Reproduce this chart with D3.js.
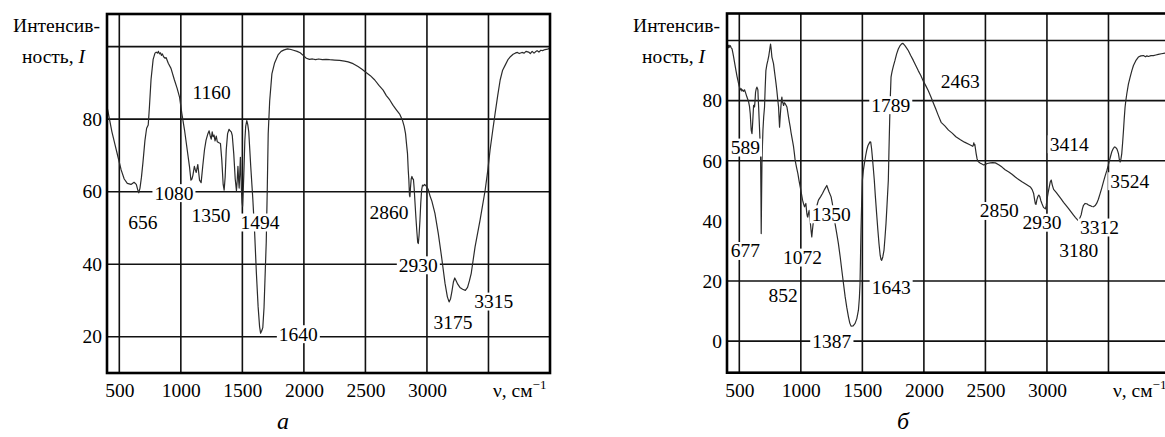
<!DOCTYPE html>
<html>
  <head>
    <meta charset="utf-8">
    <title>ИК-спектры а, б</title>
    <style>
      body {
        margin: 0;
        background: #fff;
      }
      svg, svg text {
        font-family: 'Liberation Serif', 'Times New Roman', Times, serif;
        fill: #000;
      }
      .curve {
        fill: none;
        stroke: #2b2b2b;
        stroke-width: 1.2;
        stroke-linejoin: round;
      }
      .grid line {
        stroke: #111;
        stroke-width: 1.6;
      }
      .frame {
        fill: none;
        stroke: #000;
        stroke-width: 2.6;
      }
    </style>
  </head>
  <body>
    <div class="chart"></div>

    <script src="https://d3js.org/d3.v7.min.js"></script>
    <script type="text/javascript">
      // spectrum "а": [wavenumber, intensity]
      var spectrumA = [
        [400, 83.5], [420, 80], [440, 76.5], [465, 73], [490, 69.5], [515, 66], [540, 63.5], [565, 62.3],
        [595, 62], [620, 62.6], [638, 62], [650, 60.5], [658, 59.7], [668, 61], [680, 64], [692, 68],
        [708, 74], [722, 77.5], [735, 78.4], [745, 83.5], [758, 91], [775, 96.5], [790, 98.2], [800, 98.5],
        [810, 98.2], [818, 98.7], [826, 98], [834, 98.3], [842, 97.6], [850, 98], [860, 97.2], [872, 96.8],
        [880, 97], [898, 95.4], [920, 94], [948, 90.8], [970, 88.5], [990, 86], [1008, 81.6], [1030, 77],
        [1052, 71.5], [1070, 67], [1082, 63.2], [1090, 63.5], [1098, 64.5], [1110, 67], [1118, 66], [1125, 65.3],
        [1138, 67.5], [1146, 65], [1152, 63.2], [1165, 62.5], [1178, 67], [1192, 71.5], [1205, 74.2], [1220, 76],
        [1230, 76.8], [1238, 75.5], [1247, 74.5], [1255, 76.5], [1262, 75.2], [1270, 75.6], [1278, 74], [1288, 75.3],
        [1296, 73.8], [1310, 73.5], [1322, 73.3], [1333, 68.7], [1344, 62], [1352, 60.4], [1360, 64], [1369, 71.5],
        [1380, 76], [1392, 77.2], [1400, 76.8], [1410, 76.5], [1418, 75.5], [1430, 70.5], [1442, 63.5], [1452, 60.3],
        [1458, 63], [1464, 67], [1470, 63], [1474, 61], [1479, 65], [1484, 69.5], [1489, 64], [1493, 60],
        [1498, 57], [1502, 56], [1507, 60], [1513, 66], [1520, 74], [1527, 78], [1536, 79.6], [1544, 78.5],
        [1552, 76.5], [1568, 67], [1585, 58], [1600, 48.5], [1614, 37.5], [1628, 28.3], [1640, 22.8], [1648, 21],
        [1656, 21.5], [1666, 22.5], [1676, 28], [1684, 36], [1694, 46], [1702, 60], [1710, 76], [1722, 85],
        [1740, 92.5], [1762, 95.5], [1790, 97.7], [1815, 98.7], [1840, 99.1], [1867, 99.4], [1895, 99.2], [1915, 99],
        [1945, 98.7], [1970, 98.3], [1994, 97.6], [2020, 96.8], [2045, 96.5], [2070, 96.6], [2095, 96.4], [2120, 96.6],
        [2150, 96.4], [2180, 96.5], [2210, 96.4], [2250, 96.3], [2290, 96.2], [2330, 96], [2360, 95.8], [2400, 95.3],
        [2440, 94.5], [2475, 93.7], [2500, 93], [2540, 92], [2576, 90.8], [2610, 89.3], [2644, 88], [2670, 86.5],
        [2698, 85.3], [2725, 83.8], [2753, 82.5], [2780, 81.3], [2800, 79.8], [2815, 78], [2826, 76], [2836, 72.5],
        [2842, 70.5], [2848, 66], [2853, 63.2], [2858, 59], [2862, 58.6], [2866, 61], [2872, 63.5], [2878, 64.2],
        [2884, 63.5], [2890, 63.5], [2896, 61], [2902, 57.5], [2910, 53], [2918, 49], [2925, 46], [2930, 45.7],
        [2936, 48], [2943, 52], [2950, 57], [2957, 60.5], [2964, 61.8], [2972, 61.6], [2980, 62], [2990, 61.7],
        [3000, 61.3], [3012, 60.5], [3025, 58.8], [3040, 57.4], [3065, 54], [3092, 48.5], [3119, 42], [3147, 34.7],
        [3166, 31], [3180, 29.6], [3192, 30.5], [3203, 32.5], [3215, 35.1], [3226, 36.2], [3236, 35.5], [3250, 34.5],
        [3268, 33.6], [3290, 33.1], [3312, 32.8], [3330, 33.6], [3345, 35.4], [3360, 37.5], [3391, 44.8], [3432, 52.2],
        [3473, 60.4], [3495, 66], [3513, 71.5], [3535, 77], [3554, 81.6], [3575, 86.5], [3595, 90.8], [3615, 93.5],
        [3636, 94.9], [3660, 96.5], [3680, 97.3], [3700, 97.9], [3717, 98.2], [3735, 98.4], [3750, 98.1], [3772, 98.4],
        [3790, 98.2], [3805, 98.7], [3826, 98.5], [3840, 98.1], [3855, 98.7], [3870, 98.2], [3880, 98.5], [3895, 98.9],
        [3910, 98.5], [3925, 99], [3940, 98.9], [3960, 99.2], [3980, 99.3], [4000, 99.5]
      ];

      // spectrum "б": [wavenumber, intensity]
      var spectrumB = [
        [403, 97.5], [408, 98.3], [412, 97.6], [416, 98.5], [420, 97.8], [427, 98.3], [434, 97.6], [441, 97.2],
        [448, 95.8], [454, 94.5], [463, 92.3], [473, 90], [481, 88.2], [489, 86.7], [498, 85], [508, 83.6],
        [515, 84], [521, 83.2], [527, 83.6], [535, 83.1], [543, 83.6], [552, 82.5], [562, 81.2], [570, 80.3],
        [576, 79.5], [583, 78], [589, 75.6], [594, 72], [597, 70.1], [603, 69], [607, 71.5], [611, 74.5],
        [616, 78.4], [620, 78.5], [624, 77.9], [628, 80], [632, 82.8], [638, 84], [643, 84.5], [648, 84],
        [651, 83.6], [654, 80.5], [657, 77.9], [661, 74], [665, 70.1], [669, 66], [673, 61.3], [676, 48],
        [678, 35.8], [681, 48], [684, 59], [688, 65], [692, 70.1], [698, 74.5], [705, 77.9], [710, 84],
        [716, 90], [724, 92], [732, 93.4], [740, 95], [746, 96.7], [750, 97.8], [754, 98.8], [758, 97.5],
        [765, 94.5], [772, 93.3], [778, 92.3], [785, 90], [792, 87.8], [799, 85.5], [805, 83.4], [812, 80.5],
        [819, 77.9], [823, 74.5], [827, 71.2], [832, 74.5], [838, 77.9], [842, 80], [846, 81.2], [850, 79.6],
        [855, 79.2], [860, 78.4], [866, 79.3], [873, 79], [880, 78.5], [887, 77.9], [893, 76.4], [900, 74.5],
        [907, 72.8], [914, 71.2], [920, 69.5], [927, 67.9], [934, 66.3], [941, 64.6], [948, 62.3], [954, 60.1],
        [965, 57.8], [976, 55.7], [985, 53.5], [995, 51.3], [1005, 49], [1014, 46.9], [1022, 45.7], [1030, 44.7],
        [1036, 45.3], [1041, 45.8], [1045, 44], [1049, 42.4], [1053, 41.5], [1057, 41.3], [1062, 42.5], [1068, 43.5],
        [1073, 41.5], [1078, 39.1], [1084, 36.5], [1089, 34.7], [1094, 36.8], [1100, 39.1], [1110, 41.5], [1122, 43.5],
        [1132, 45.3], [1143, 46.9], [1160, 48], [1176, 49.1], [1193, 50.5], [1211, 51.8], [1228, 49.8], [1246, 48],
        [1256, 45.8], [1265, 43.5], [1278, 39.1], [1292, 35.8], [1305, 32.5], [1320, 28], [1333, 23.6], [1347, 19],
        [1360, 14.8], [1373, 11.3], [1387, 8.1], [1398, 6], [1408, 5], [1425, 5.1], [1441, 5.9], [1455, 7.5],
        [1468, 10.3], [1476, 14.5], [1481, 19.2], [1485, 28], [1489, 36.9], [1494, 45.5], [1500, 53.5], [1508, 56.8],
        [1516, 59], [1526, 61.5], [1535, 63.5], [1545, 65], [1554, 65.7], [1562, 66.3], [1568, 66.2], [1575, 64],
        [1581, 61.3], [1589, 57.5], [1597, 53.5], [1606, 48], [1616, 42.4], [1626, 37], [1635, 32.5], [1645, 28.5],
        [1652, 27.1], [1657, 26.9], [1666, 28], [1676, 30.3], [1684, 34.5], [1692, 39.1], [1700, 45], [1711, 53.5],
        [1716, 63], [1722, 73.4], [1727, 81], [1733, 87.8], [1738, 89], [1743, 90], [1752, 91.5], [1765, 93.4],
        [1778, 95.5], [1792, 97.2], [1805, 98.2], [1819, 98.9], [1830, 99.1], [1846, 98.3], [1860, 97.5], [1873, 96.7],
        [1893, 95], [1914, 93.4], [1934, 91.7], [1954, 90], [1975, 88.4], [1995, 86.5], [2015, 85], [2035, 83.4],
        [2055, 81.5], [2076, 79.3], [2096, 77.3], [2116, 75.2], [2140, 72.8], [2170, 71.6], [2200, 70.2], [2230, 69.2],
        [2260, 68], [2297, 67], [2330, 66.2], [2365, 65.5], [2385, 65.1], [2397, 64.8], [2402, 65.3], [2406, 66],
        [2410, 65.2], [2414, 65.4], [2419, 64], [2425, 62.3], [2432, 60.7], [2440, 59.8], [2448, 59.5], [2459, 59.2],
        [2472, 58.9], [2486, 58.6], [2500, 58.8], [2514, 59.1], [2540, 59.3], [2560, 59.4], [2581, 59.3], [2608, 58.7],
        [2635, 57.9], [2660, 57], [2690, 56.3], [2716, 55.5], [2745, 54.5], [2770, 53.8], [2797, 53], [2830, 52.2],
        [2865, 51.3], [2880, 50.4], [2892, 49.1], [2900, 47], [2906, 45.7], [2911, 45.5], [2918, 47], [2927, 48.2],
        [2934, 48.6], [2941, 48.2], [2950, 46.8], [2959, 45.8], [2972, 44.5], [2987, 44], [2994, 45], [3000, 47],
        [3010, 49.5], [3019, 51.3], [3027, 53], [3035, 53.6], [3043, 52], [3054, 50.5], [3075, 49.5], [3095, 48.4],
        [3115, 47.3], [3135, 46.2], [3155, 45.2], [3176, 44.1], [3196, 43], [3216, 41.9], [3232, 41.1], [3245, 40.5],
        [3257, 40], [3265, 40.7], [3278, 42], [3288, 44], [3297, 45.2], [3310, 45.8], [3324, 45.7], [3338, 45.3],
        [3351, 45.1], [3365, 44.8], [3378, 44.7], [3392, 45.1], [3405, 45.9], [3418, 47.2], [3432, 49.1], [3446, 51],
        [3459, 53], [3473, 55], [3487, 56.8], [3497, 58.3], [3506, 59.8], [3517, 61.5], [3527, 63], [3538, 64],
        [3549, 64.6], [3558, 64.5], [3568, 64], [3575, 63.2], [3581, 62.4], [3588, 60.5], [3595, 59.6], [3601, 60.5],
        [3608, 62.4], [3615, 66], [3622, 70.1], [3628, 74], [3635, 77.9], [3642, 80.3], [3649, 82.3], [3662, 85.5],
        [3676, 87.8], [3690, 90], [3703, 91.7], [3722, 93.3], [3743, 94.5], [3763, 94.9], [3784, 95], [3800, 94.6],
        [3812, 94.9], [3824, 94.7], [3845, 95], [3865, 95], [3885, 95.2], [3905, 95.4], [3930, 95.6], [3959, 95.8],
        [3990, 96]
      ];

      // peak annotations: text, wavenumber and intensity where the label sits
      var peaksA = [
        ['1160', 1251, 87.4], ['1080', 944, 59.6], ['656', 692, 51.5], ['1350', 1245, 53.3],
        ['1494', 1643, 51.5], ['1640', 1955, 20.7], ['2860', 2692, 54.3], ['2930', 2930, 39.7],
        ['3175', 3212, 23.9], ['3315', 3543, 29.7]
      ];
      var peaksB = [
        ['589', 550, 64.4], ['677', 550, 30.0], ['1072', 1013, 27.8], ['852', 857, 15.1],
        ['1350', 1247, 42.2], ['1387', 1251, -0.3], ['1643', 1734, 17.8], ['1789', 1731, 78.5],
        ['2463', 2296, 86.5], ['3414', 3181, 65.5], ['3524', 3672, 53.2], ['2850', 2612, 43.3],
        ['2930', 2960, 39.4], ['3312', 3427, 37.8], ['3180', 3259, 30.0]
      ];

      // ticks and grid
      var xTickLabels = [500, 1000, 1500, 2000, 2500, 3000];
      var xGrid = [500, 1000, 1500, 2000, 2500, 3000, 3500];
      var yTickLabelsA = [20, 40, 60, 80];
      var yGridA = [20, 40, 60, 80, 100];
      var yTickLabelsB = [0, 20, 40, 60, 80];
      var yGridB = [0, 20, 60, 80, 100];

      var fontSize = 19.5;
      var serif = "'Liberation Serif', 'Times New Roman', Times, serif";
      var width = 1165, height = 437;

      var svg = d3.select('.chart')
        .append('svg')
        .attr('width', width)
        .attr('height', height)
        .style('font-family', serif);

      var panels = [
        {id: 'a', caption: 'а', left: 107, top: 14, bottom: 373, yDomain: [10, 109],
         data: spectrumA, peaks: peaksA, yTicks: yTickLabelsA, yGrid: yGridA},
        {id: 'b', caption: 'б', left: 727, top: 13.5, bottom: 372.7, yDomain: [-10.5, 109],
         data: spectrumB, peaks: peaksB, yTicks: yTickLabelsB, yGrid: yGridB}
      ];

      panels.forEach(function(p) {
        var plotW = 443;
        var x = d3.scaleLinear().domain([400, 4000]).range([p.left, p.left + plotW]);
        var y = d3.scaleLinear().domain(p.yDomain).range([p.bottom, p.top]);

        var g = svg.append('g').attr('class', 'panel-' + p.id);

        g.append('clipPath')
          .attr('id', 'clip-' + p.id)
          .append('rect')
          .attr('x', p.left)
          .attr('y', p.top)
          .attr('width', plotW)
          .attr('height', p.bottom - p.top);

        //grid lines
        var grid = g.append('g').attr('class', 'grid');
        grid.selectAll('line.v')
          .data(xGrid).enter()
          .append('line')
          .attr('class', 'v')
          .attr('x1', function(d) { return x(d); })
          .attr('x2', function(d) { return x(d); })
          .attr('y1', p.top)
          .attr('y2', p.bottom);
        grid.selectAll('line.h')
          .data(p.yGrid).enter()
          .append('line')
          .attr('class', 'h')
          .attr('x1', p.left)
          .attr('x2', p.left + plotW)
          .attr('y1', function(d) { return y(d); })
          .attr('y2', function(d) { return y(d); });

        //spectrum line
        var line = d3.line()
          .x(function(d) { return x(d[0]); })
          .y(function(d) { return y(d[1]); });

        g.append('path')
          .datum(p.data)
          .attr('class', 'curve')
          .attr('clip-path', 'url(#clip-' + p.id + ')')
          .attr('d', line);

        //peak labels on white boxes
        var peak = g.selectAll('g.peak')
          .data(p.peaks).enter()
          .append('g')
          .attr('class', 'peak');

        peak.append('text')
          .attr('x', function(d) { return x(d[1]); })
          .attr('y', function(d) { return y(d[2]) + 0.33 * fontSize; })
          .attr('text-anchor', 'middle')
          .style('font-family', serif)
          .style('font-size', fontSize + 'px')
          .text(function(d) { return d[0]; });

        peak.each(function() {
          var t = d3.select(this).select('text');
          var bb = t.node().getBBox();
          var cy = parseFloat(t.attr('y')) - 0.33 * fontSize;
          d3.select(this).insert('rect', 'text')
            .attr('x', bb.x - 2)
            .attr('y', cy - 0.46 * fontSize)
            .attr('width', bb.width + 4)
            .attr('height', 0.92 * fontSize)
            .attr('fill', '#fff');
        });

        //frame
        g.append('rect')
          .attr('class', 'frame')
          .attr('x', p.left)
          .attr('y', p.top)
          .attr('width', plotW)
          .attr('height', p.bottom - p.top);

        //axes (labels only)
        var xAxis = d3.axisBottom(x)
          .tickValues(xTickLabels)
          .tickFormat(d3.format('d'))
          .tickSize(0)
          .tickPadding(10);
        var gX = g.append('g')
          .attr('transform', 'translate(0,' + p.bottom + ')')
          .call(xAxis);
        gX.select('.domain').remove();

        var yAxis = d3.axisLeft(y)
          .tickValues(p.yTicks)
          .tickFormat(d3.format('d'))
          .tickSize(0)
          .tickPadding(5);
        var gY = g.append('g')
          .attr('transform', 'translate(' + p.left + ',0)')
          .call(yAxis);
        gY.select('.domain').remove();

        gX.attr('font-family', null).attr('font-size', null);
        gY.attr('font-family', null).attr('font-size', null);
        g.selectAll('.tick text')
          .style('font-family', serif)
          .style('font-size', fontSize + 'px')
          .attr('fill', '#000');

        //axis titles
        g.append('text')
          .attr('x', p.left - 7)
          .attr('y', 31.5)
          .attr('text-anchor', 'end')
          .style('font-size', fontSize + 'px')
          .text('Интенсив-');

        var t2 = g.append('text')
          .attr('x', p.left - 22)
          .attr('y', 63)
          .attr('text-anchor', 'end')
          .style('font-size', fontSize + 'px');
        t2.append('tspan').text('ность, ');
        t2.append('tspan').style('font-style', 'italic').text('I');

        var xt = g.append('text')
          .attr('x', p.left + 386)
          .attr('y', 397)
          .style('font-size', fontSize + 'px');
        xt.append('tspan').text('ν, см');
        xt.append('tspan')
          .attr('dy', -8)
          .style('font-size', '13px')
          .text('−1');

        //caption under panel
        g.append('text')
          .attr('x', p.left + 170)
          .attr('y', 429)
          .style('font-size', '24px')
          .style('font-style', 'italic')
          .text(p.caption);
      });
    </script>
  </body>
</html>
